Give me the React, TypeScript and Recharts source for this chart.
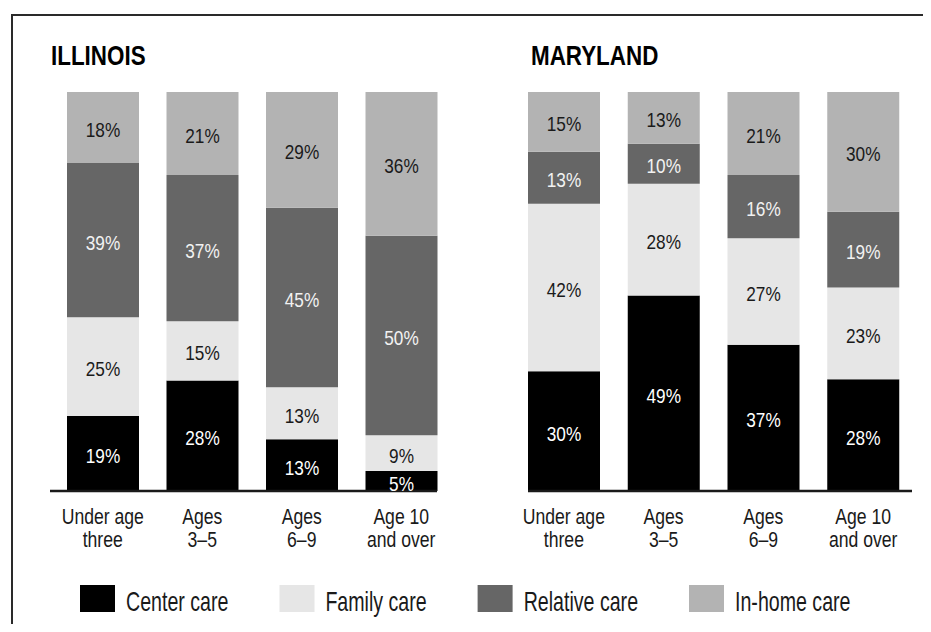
import React from 'react';
import { BarChart, Bar, XAxis, YAxis, LabelList, Legend } from 'recharts';

const categories = ['Under age\nthree', 'Ages\n3–5', 'Ages\n6–9', 'Age 10\nand over'];
const illinoisCenter = [19, 28, 13, 5];
const illinoisFamily = [25, 15, 13, 9];
const illinoisRelative = [39, 37, 45, 50];
const illinoisInHome = [18, 21, 29, 36];
const marylandCenter = [30, 49, 37, 28];
const marylandFamily = [42, 28, 27, 23];
const marylandRelative = [13, 10, 16, 19];
const marylandInHome = [15, 13, 21, 30];
const seriesNames = ['Center care', 'Family care', 'Relative care', 'In-home care'];
const stateTitles = ['ILLINOIS', 'MARYLAND'];

const FONT = "'Liberation Sans', Arial, sans-serif";
const COLORS = { center: '#000000', family: '#e6e6e6', relative: '#666666', inhome: '#b3b3b3' };
const LABEL_COLORS = { center: '#ffffff', family: '#1a1a1a', relative: '#f2f2f2', inhome: '#1a1a1a' };

function build(c: number[], f: number[], r: number[], h: number[]) {
  return categories.map((cat, i) => ({ cat, center: c[i], family: f[i], relative: r[i], inhome: h[i] }));
}

const illinoisData = build(illinoisCenter, illinoisFamily, illinoisRelative, illinoisInHome);
const marylandData = build(marylandCenter, marylandFamily, marylandRelative, marylandInHome);

const Tick = (props: any) => {
  const { x, y, payload } = props;
  const lines = String(payload.value).split('\n');
  return (
    <g transform={`translate(${x},${y})`}>
      {lines.map((l, i) => (
        <text
          key={i}
          x={0}
          y={0}
          transform={`translate(0,${33 + i * 23}) scale(0.8,1)`}
          textAnchor="middle"
          fontSize={22}
          fill="#1a1a1a"
          fontFamily={FONT}
        >
          {l}
        </text>
      ))}
    </g>
  );
};

const makeLabel = (fill: string) => (p: any) => {
  const vb = p.viewBox && p.viewBox.width != null ? p.viewBox : p;
  const x = Number(vb.x), y = Number(vb.y), w = Number(vb.width), h = Number(vb.height);
  const cx = x + w / 2;
  const cy = y + h / 2 + 0.358 * 21 + 2;
  return (
    <text x={0} y={0} transform={`translate(${cx},${cy}) scale(0.82,1)`} textAnchor="middle" fontSize={21} fill={fill} fontFamily={FONT}>
      {`${p.value}%`}
    </text>
  );
};

const LX = 0.7;
const LegendContent = (props: any) => {
  const payload = [...(props.payload || [])].sort(
    (a: any, b: any) => seriesNames.indexOf(a.value) - seriesNames.indexOf(b.value)
  );
  return (
    <div
      style={{
        display: 'flex',
        alignItems: 'flex-end',
        gap: 51 / LX,
        fontFamily: FONT,
        fontSize: 28,
        whiteSpace: 'nowrap',
        transform: `scaleX(${LX})`,
        transformOrigin: 'left top',
      }}
    >
      {payload.map((e: any) => (
        <div key={e.value} style={{ display: 'flex', alignItems: 'flex-end' }}>
          <span style={{ width: 35 / LX, height: 27, background: e.color, display: 'inline-block', marginRight: 11 / LX }} />
          <span style={{ color: '#1a1a1a', lineHeight: '27px', height: 27, position: 'relative', top: 3 }}>{e.value}</span>
        </div>
      ))}
    </div>
  );
};

const keys: Array<keyof typeof COLORS> = ['center', 'family', 'relative', 'inhome'];

function Panel(props: { data: any[]; margin: any; padding: any; legend?: boolean }) {
  return (
    <div style={{ position: 'absolute', left: 0, top: 0 }}>
      <BarChart width={931} height={632} data={props.data} margin={props.margin} stackOffset="expand" barSize={72}>
        <XAxis
          dataKey="cat"
          interval={0}
          tick={<Tick />}
          tickLine={false}
          tickSize={0}
          tickMargin={0}
          height={60}
          padding={props.padding}
          axisLine={{ stroke: '#1a1a1a', strokeWidth: 2.5 }}
        />
        <YAxis hide domain={[0, 1]} />
        {keys.map((k, i) => (
          <Bar key={k} dataKey={k} name={seriesNames[i]} stackId="a" fill={COLORS[k]} isAnimationActive={false}>
            <LabelList dataKey={k} position="center" content={makeLabel(LABEL_COLORS[k])} />
          </Bar>
        ))}
        {props.legend && (
          <Legend
            layout="horizontal"
            verticalAlign="middle"
            align="center"
            content={<LegendContent />}
            wrapperStyle={{ position: 'absolute', left: 80, top: 585, width: 851, height: 27 }}
          />
        )}
      </BarChart>
    </div>
  );
}

const titleStyle: React.CSSProperties = {
  position: 'absolute',
  top: 42,
  fontFamily: FONT,
  fontWeight: 'bold',
  fontSize: 28,
  lineHeight: 1,
  color: '#000',
  transform: 'scaleX(0.8)',
  transformOrigin: 'left top',
  whiteSpace: 'nowrap',
};

export default function App() {
  return (
    <div style={{ position: 'relative', width: 931, height: 632, margin: -8, overflow: 'hidden', background: '#fff' }}>
      <div style={{ position: 'absolute', left: 11, top: 14, width: 960, height: 660, borderLeft: '2px solid #2a2a2a', borderTop: '2px solid #2a2a2a' }} />
      <div style={{ ...titleStyle, left: 51 }}>{stateTitles[0]}</div>
      <div style={{ ...titleStyle, left: 531 }}>{stateTitles[1]}</div>
      <Panel data={illinoisData} margin={{ top: 92, left: 50, right: 494, bottom: 81 }} padding={{ left: 3, right: -14 }} legend />
      <Panel data={marylandData} margin={{ top: 92, left: 528, right: 19, bottom: 81 }} padding={{ left: -14, right: -1 }} />
    </div>
  );
}
